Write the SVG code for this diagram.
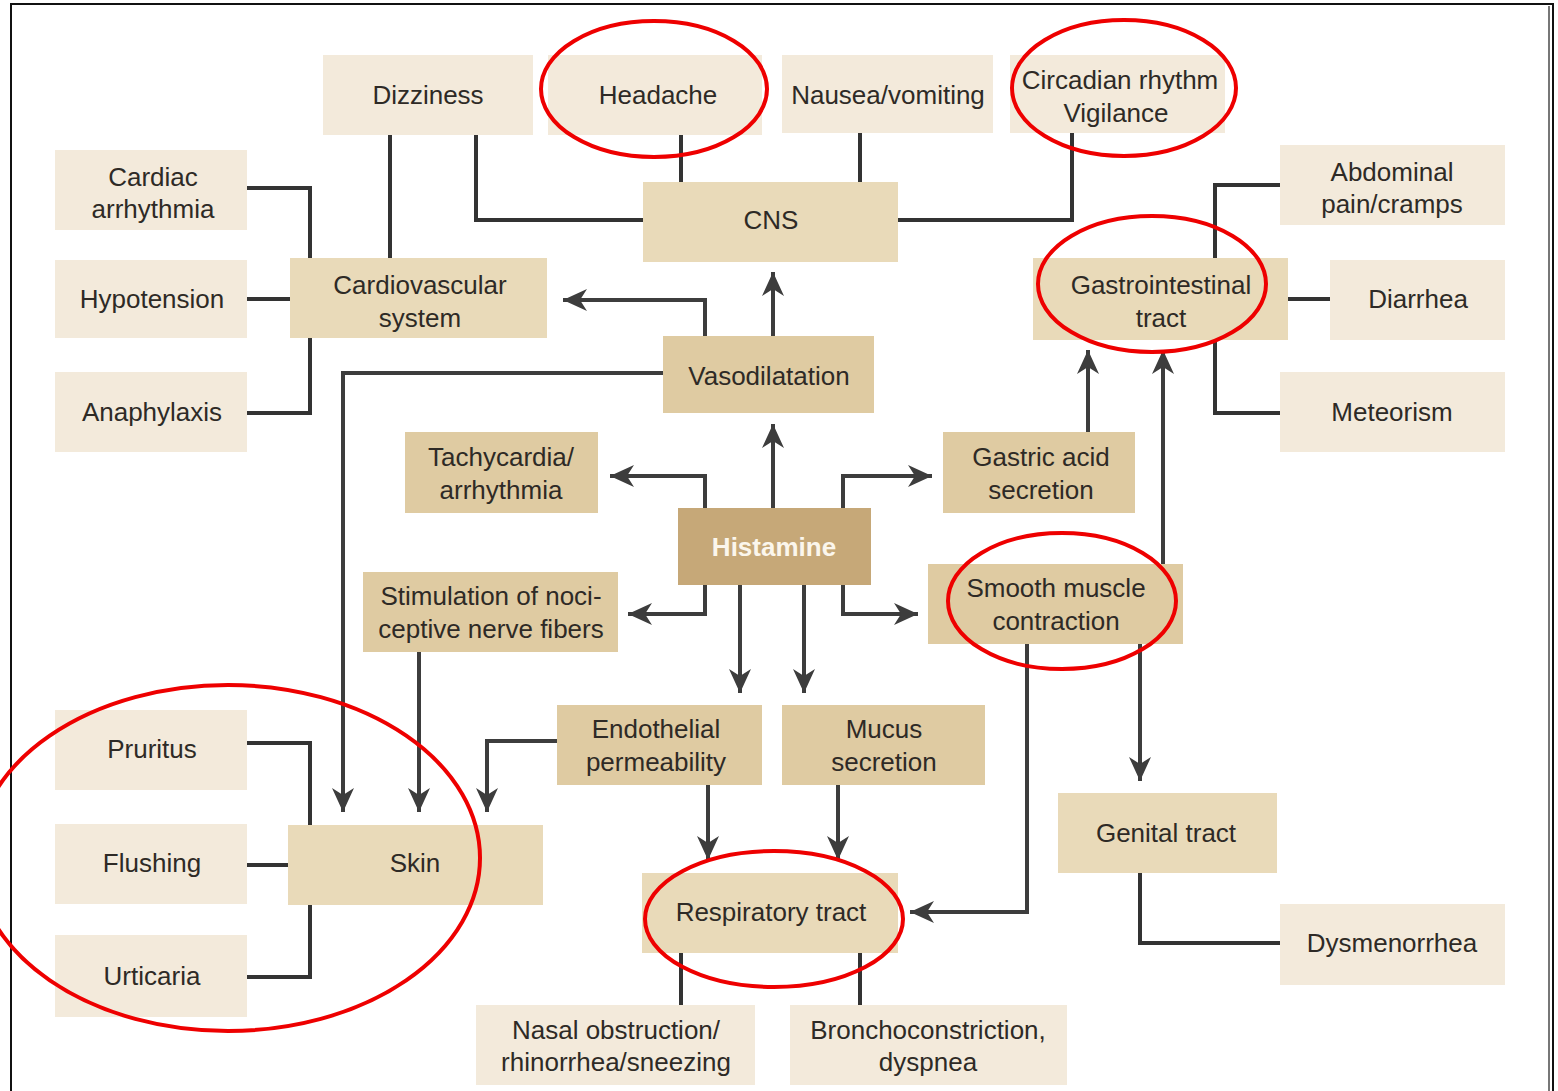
<svg xmlns="http://www.w3.org/2000/svg" width="1558" height="1091" viewBox="0 0 1558 1091">
<defs>
<style>
.leaf{fill:#f3eadb}
.org{fill:#e9dab9}
.eff{fill:#dfcba2}
.hist{fill:#c6a878}
.t{font-family:"Liberation Sans",Arial,sans-serif;font-size:26px;fill:#2e2a26;text-anchor:middle}
.tw{font-family:"Liberation Sans",Arial,sans-serif;font-size:26px;font-weight:bold;fill:#fbf6ec;text-anchor:middle}
.ln{fill:none;stroke:#333;stroke-width:4;stroke-linejoin:miter}
.ar{fill:none;stroke:#3d3d3d;stroke-width:4;marker-end:url(#ah)}
.red{fill:none;stroke:#ee0000;stroke-width:4}
</style>
<marker id="ah" markerUnits="userSpaceOnUse" viewBox="-26 -13 28 26" markerWidth="28" markerHeight="26" refX="0" refY="0" orient="auto">
<path d="M0,0 L-24,-11 L-17,0 L-24,11 Z" fill="#3d3d3d"/>
</marker>
</defs>
<rect x="0" y="0" width="1558" height="1091" fill="#ffffff"/>
<g id="frame">
<path d="M11,1091 V4 H1553 V1091" fill="none" stroke="#111" stroke-width="2"/>
<line x1="1549" y1="6" x2="1549" y2="1091" stroke="#777" stroke-width="2"/>
</g>
<g id="connectors">
<path class="ln" d="M390,135 V258"/>
<path class="ln" d="M476,135 V220 H643"/>
<path class="ln" d="M681,135 V182"/>
<path class="ln" d="M860,133 V182"/>
<path class="ln" d="M1072,133 V220 H898"/>
<path class="ln" d="M247,188 H310 V258"/>
<path class="ln" d="M247,299 H290"/>
<path class="ln" d="M247,413 H310 V338"/>
<path class="ln" d="M1280,185 H1215 V258"/>
<path class="ln" d="M1288,299 H1330"/>
<path class="ln" d="M1280,413 H1215 V340"/>
<path class="ln" d="M247,743 H310 V825"/>
<path class="ln" d="M247,865 H288"/>
<path class="ln" d="M247,977 H310 V905"/>
<path class="ln" d="M1140,873 V943 H1280"/>
<path class="ln" d="M681,953 V1005"/>
<path class="ln" d="M860,953 V1005"/>
<path class="ar" d="M705,336 V300 H563"/>
<path class="ar" d="M773,336 V272"/>
<path class="ar" d="M663,373 H343 V812"/>
<path class="ar" d="M773,508 V424"/>
<path class="ar" d="M705,508 V476 H610"/>
<path class="ar" d="M843,508 V476 H932"/>
<path class="ar" d="M705,585 V614 H628"/>
<path class="ar" d="M843,585 V614 H918"/>
<path class="ar" d="M740,585 V693"/>
<path class="ar" d="M804,585 V693"/>
<path class="ar" d="M1088,432 V350"/>
<path class="ar" d="M1163,564 V350"/>
<path class="ar" d="M1140,644 V781"/>
<path class="ar" d="M1027,644 V912 H910"/>
<path class="ar" d="M557,741 H487 V812"/>
<path class="ar" d="M708,785 V860"/>
<path class="ar" d="M838,785 V860"/>
<path class="ar" d="M419,652 V812"/>
</g>
<g id="n-dizziness"><rect class="leaf" x="323" y="55" width="210" height="80"/><text class="t" x="428" y="104">Dizziness</text></g>
<g id="n-headache"><rect class="leaf" x="548" y="55" width="214" height="80"/><text class="t" x="658" y="104">Headache</text></g>
<g id="n-nausea"><rect class="leaf" x="782" y="55" width="211" height="78"/><text class="t" x="888" y="104">Nausea/vomiting</text></g>
<g id="n-circadian"><rect class="leaf" x="1010" y="55" width="215" height="78"/><text class="t" x="1120" y="89">Circadian rhythm</text><text class="t" x="1116" y="122">Vigilance</text></g>
<g id="n-cardiac"><rect class="leaf" x="55" y="150" width="192" height="80"/><text class="t" x="153" y="186">Cardiac</text><text class="t" x="153" y="218">arrhythmia</text></g>
<g id="n-hypotension"><rect class="leaf" x="55" y="260" width="192" height="78"/><text class="t" x="152" y="308">Hypotension</text></g>
<g id="n-anaphylaxis"><rect class="leaf" x="55" y="372" width="192" height="80"/><text class="t" x="152" y="421">Anaphylaxis</text></g>
<g id="n-abdominal"><rect class="leaf" x="1280" y="145" width="225" height="80"/><text class="t" x="1392" y="181">Abdominal</text><text class="t" x="1392" y="213">pain/cramps</text></g>
<g id="n-diarrhea"><rect class="leaf" x="1330" y="260" width="175" height="80"/><text class="t" x="1418" y="308">Diarrhea</text></g>
<g id="n-meteorism"><rect class="leaf" x="1280" y="372" width="225" height="80"/><text class="t" x="1392" y="421">Meteorism</text></g>
<g id="n-pruritus"><rect class="leaf" x="55" y="710" width="192" height="80"/><text class="t" x="152" y="758">Pruritus</text></g>
<g id="n-flushing"><rect class="leaf" x="55" y="824" width="192" height="80"/><text class="t" x="152" y="872">Flushing</text></g>
<g id="n-urticaria"><rect class="leaf" x="55" y="935" width="192" height="82"/><text class="t" x="152" y="985">Urticaria</text></g>
<g id="n-dysmenorrhea"><rect class="leaf" x="1280" y="904" width="225" height="81"/><text class="t" x="1392" y="952">Dysmenorrhea</text></g>
<g id="n-nasal"><rect class="leaf" x="476" y="1005" width="279" height="80"/><text class="t" x="616" y="1039">Nasal obstruction/</text><text class="t" x="616" y="1071">rhinorrhea/sneezing</text></g>
<g id="n-broncho"><rect class="leaf" x="790" y="1005" width="277" height="80"/><text class="t" x="928" y="1039">Bronchoconstriction,</text><text class="t" x="928" y="1071">dyspnea</text></g>
<g id="n-cns"><rect class="org" x="643" y="182" width="255" height="80"/><text class="t" x="771" y="229">CNS</text></g>
<g id="n-cardiovascular"><rect class="org" x="290" y="258" width="257" height="80"/><text class="t" x="420" y="294">Cardiovascular</text><text class="t" x="420" y="327">system</text></g>
<g id="n-gi"><rect class="org" x="1033" y="258" width="255" height="82"/><text class="t" x="1161" y="294">Gastrointestinal</text><text class="t" x="1161" y="327">tract</text></g>
<g id="n-skin"><rect class="org" x="288" y="825" width="255" height="80"/><text class="t" x="415" y="872">Skin</text></g>
<g id="n-genital"><rect class="org" x="1058" y="793" width="219" height="80"/><text class="t" x="1166" y="842">Genital tract</text></g>
<g id="n-respiratory"><rect class="org" x="642" y="873" width="256" height="80"/><text class="t" x="771" y="921">Respiratory tract</text></g>
<g id="n-vasodilatation"><rect class="eff" x="663" y="336" width="211" height="77"/><text class="t" x="769" y="385">Vasodilatation</text></g>
<g id="n-tachycardia"><rect class="eff" x="405" y="432" width="193" height="81"/><text class="t" x="501" y="466">Tachycardia/</text><text class="t" x="501" y="499">arrhythmia</text></g>
<g id="n-gastric"><rect class="eff" x="943" y="432" width="192" height="81"/><text class="t" x="1041" y="466">Gastric acid</text><text class="t" x="1041" y="499">secretion</text></g>
<g id="n-stimulation"><rect class="eff" x="363" y="572" width="255" height="80"/><text class="t" x="491" y="605">Stimulation of noci-</text><text class="t" x="491" y="638">ceptive nerve fibers</text></g>
<g id="n-smooth"><rect class="eff" x="928" y="564" width="255" height="80"/><text class="t" x="1056" y="597">Smooth muscle</text><text class="t" x="1056" y="630">contraction</text></g>
<g id="n-endothelial"><rect class="eff" x="557" y="705" width="205" height="80"/><text class="t" x="656" y="738">Endothelial</text><text class="t" x="656" y="771">permeability</text></g>
<g id="n-mucus"><rect class="eff" x="782" y="705" width="203" height="80"/><text class="t" x="884" y="738">Mucus</text><text class="t" x="884" y="771">secretion</text></g>
<g id="n-histamine"><rect class="hist" x="678" y="508" width="193" height="77"/><text class="tw" x="774" y="556">Histamine</text></g>
<g id="highlights">
<ellipse class="red" cx="654" cy="89" rx="113" ry="68"/>
<ellipse class="red" cx="1124" cy="88" rx="112" ry="68"/>
<ellipse class="red" cx="1152" cy="284" rx="114" ry="68"/>
<ellipse class="red" cx="1062" cy="601" rx="114" ry="68"/>
<ellipse class="red" cx="228" cy="858" rx="252" ry="173"/>
<ellipse class="red" cx="774" cy="919" rx="129" ry="68"/>
</g>
</svg>
